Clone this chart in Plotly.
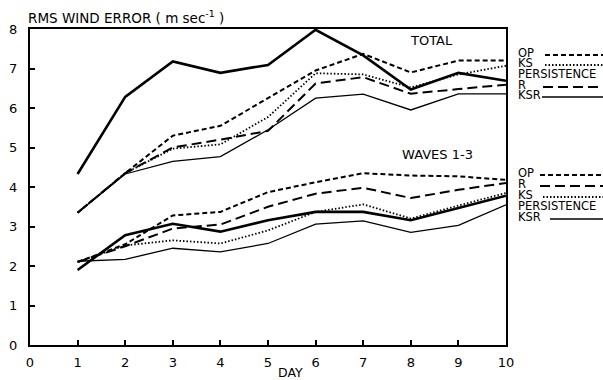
import plotly.graph_objects as go

days = [1, 2, 3, 4, 5, 6, 7, 8, 9, 10]

# TOTAL
total_op = [3.35, 4.35, 5.3, 5.55, 6.25, 6.95, 7.37, 6.9, 7.2, 7.2]
total_ks = [3.35, 4.35, 4.97, 5.08, 5.77, 6.88, 6.85, 6.52, 6.85, 7.07]
total_pers = [4.33, 6.28, 7.18, 6.89, 7.09, 7.98, 7.33, 6.47, 6.89, 6.69]
total_r = [3.35, 4.35, 5.0, 5.2, 5.42, 6.62, 6.78, 6.36, 6.48, 6.59]
total_ksr = [3.35, 4.33, 4.65, 4.77, 5.45, 6.25, 6.35, 5.95, 6.36, 6.36]

# WAVES 1-3
waves_op = [2.1, 2.55, 3.28, 3.37, 3.87, 4.12, 4.35, 4.29, 4.27, 4.18]
waves_r = [2.1, 2.5, 2.95, 3.05, 3.5, 3.83, 3.98, 3.72, 3.93, 4.1]
waves_ks = [2.1, 2.52, 2.65, 2.57, 2.9, 3.37, 3.56, 3.2, 3.53, 3.85]
waves_pers = [1.9, 2.78, 3.07, 2.87, 3.16, 3.37, 3.37, 3.16, 3.47, 3.78]
waves_ksr = [2.12, 2.17, 2.45, 2.36, 2.57, 3.06, 3.14, 2.85, 3.03, 3.55]

x_ticks = [0, 1, 2, 3, 4, 5, 6, 7, 8, 9, 10]
y_ticks = [0, 1, 2, 3, 4, 5, 6, 7, 8]

STY = {
    "OP": dict(dash="5px,3px", width=2),
    "KS": dict(dash="1.5px,2px", width=1.8),
    "PERSISTENCE": dict(dash="solid", width=2.6),
    "R": dict(dash="10px,5px", width=2),
    "KSR": dict(dash="solid", width=1.3),
}

fig = go.Figure()
groups = [
    [("OP", total_op), ("KS", total_ks), ("PERSISTENCE", total_pers), ("R", total_r), ("KSR", total_ksr)],
    [("OP", waves_op), ("R", waves_r), ("KS", waves_ks), ("PERSISTENCE", waves_pers), ("KSR", waves_ksr)],
]
for g in groups:
    for name, vals in g:
        fig.add_trace(go.Scatter(x=days, y=vals, mode="lines", name=name, showlegend=False,
                                 line=dict(color="black", **STY[name])))

L, R_, T, B = 30, 506, 29, 345
W, H = 603, 380
def px(p):
    return (p - L) / (R_ - L)
def py(q):
    return (B - q) / (B - T)

FONT = dict(family="DejaVu Sans", size=13, color="black")
ann = []
shapes = []
legend_rows = [
    [("OP", 53, 545), ("KS", 63, 545), ("PERSISTENCE", 74, None), ("R", 85, 543), ("KSR", 95, 542)],
    [("OP", 173, 540), ("R", 184, 540), ("KS", 195, 543), ("PERSISTENCE", 206, None), ("KSR", 217, 550)],
]
for rows in legend_rows:
    for name, yy, x0 in rows:
        ann.append(dict(x=px(516), y=py(yy), xref="paper", yref="paper", text=name, showarrow=False,
                        xanchor="left", yanchor="middle", font=dict(FONT, size=11.5)))
        if x0 is not None:
            st = STY[name]
            shapes.append(dict(type="line", xref="paper", yref="paper", x0=px(x0), x1=px(603),
                               y0=py(yy + 2), y1=py(yy + 2),
                               line=dict(color="black", width=min(st["width"], 2), dash=st["dash"])))

ann.append(dict(x=px(26), y=py(17), xref="paper", yref="paper", text="RMS WIND ERROR ( m sec<sup>-1</sup> )",
                showarrow=False, xanchor="left", yanchor="middle", font=dict(FONT, size=13.5)))
ann.append(dict(x=px(431), y=py(41), xref="paper", yref="paper", text="TOTAL",
                showarrow=False, xanchor="center", yanchor="middle", font=FONT))
ann.append(dict(x=px(437), y=py(154), xref="paper", yref="paper", text="WAVES 1-3",
                showarrow=False, xanchor="center", yanchor="middle", font=FONT))
ann.append(dict(x=px(290), y=py(372), xref="paper", yref="paper", text="DAY",
                showarrow=False, xanchor="center", yanchor="middle", font=dict(FONT, size=12.5)))

fig.update_layout(
    width=W, height=H,
    margin=dict(l=L, r=W - R_, t=T, b=H - B, autoexpand=False),
    plot_bgcolor="white", paper_bgcolor="white",
    font=FONT,
    annotations=ann, shapes=shapes,
    xaxis=dict(range=[0, 10], tickvals=x_ticks, ticktext=[str(v) for v in x_ticks],
               showgrid=False, zeroline=False, showline=True, linewidth=2, linecolor="black",
               mirror=True, ticks="inside", ticklen=5, tickwidth=1.5, tickcolor="black",
               automargin=False,
               ticklabelstandoff=4, tickfont=dict(family="DejaVu Sans", size=13, color="black")),
    yaxis=dict(range=[0, 8], tickvals=y_ticks, ticktext=[str(v) for v in y_ticks],
               showgrid=False, zeroline=False, showline=True, linewidth=2, linecolor="black",
               mirror=True, ticks="inside", ticklen=5, tickwidth=1.5, tickcolor="black",
               automargin=False,
               ticklabelstandoff=8, tickfont=dict(family="DejaVu Sans", size=13, color="black")),
)

fig.write_html("out.html")
